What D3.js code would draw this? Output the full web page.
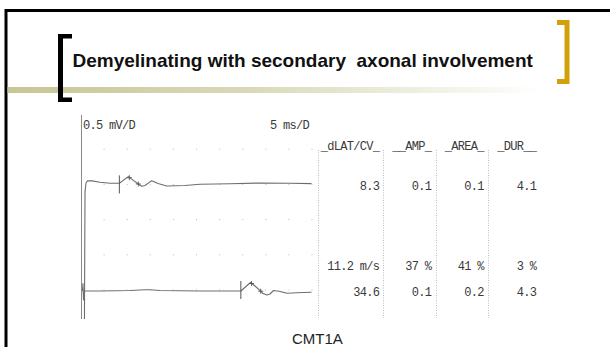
<!DOCTYPE html>
<html>
<head>
<meta charset="utf-8">
<script src="https://cdn.jsdelivr.net/npm/d3@7"></script>
<style>
  html, body { margin: 0; padding: 0; background: #fff; overflow: hidden; }
  svg { display: block; }
  .mono { font-family: "Liberation Mono", "DejaVu Sans Mono", monospace; font-size: 12px; letter-spacing: -0.7px; fill: #3a3a3a; }
</style>
</head>
<body>
<svg id="chart" width="610" height="347"></svg>
<script>
// ---- content ----
const titleText = "Demyelinating with secondary  axonal involvement";
const caption = "CMT1A";
const sensitivityLabel = "0.5 mV/D";
const sweepLabel = "5 ms/D";

// result table: column headings, distal site, conduction comparison, proximal site
const columnHeads = ["_dLAT/CV_", "__AMP_", "_AREA_", "_DUR__"];
const distalValues = [8.3, 0.1, 0.1, 4.1];      // latency ms, amp mV, area mVms, duration ms
const comparisonLabels = ["11.2 m/s", "37 %", "41 %", "3 %"];
const proximalValues = [34.6, 0.1, 0.2, 4.3];

// recorded traces: time (ms) and amplitude (mV, upward positive)
const distalTime = [0.72, 0.87, 1.08, 1.41, 2.38, 4.11, 6.28, 8.3, 10.24, 11.26, 12.4, 13.14, 13.85, 15.3, 16.67, 18.55, 22.5, 25.76, 32.25, 38.74, 45.24, 49.9];
const distalAmp  = [-2.3, -0.11, 0.02, 0.05, 0.05, 0.03, 0.017, 0.016, 0.11, 0.06, 0.006, -0.026, -0.016, 0.053, 0.013, -0.023, -0.016, 0.003, 0.009, 0.02, 0.016, 0.011];
const proximalTime = [0.3, 0.43, 0.54, 0.65, 4.11, 10.6, 13.85, 14.9, 17.1, 25.76, 34.6, 36.69, 37.66, 38.9, 39.39, 40.26, 40.9, 41.67, 42.86, 44.6, 46.75, 49.9];
const proximalAmp  = [-0.014, 0.09, -0.14, -0.014, -0.014, -0.007, 0.003, 0.003, -0.007, -0.014, -0.014, 0.107, 0.057, -0.017, -0.05, -0.071, -0.057, -0.007, -0.017, -0.047, -0.04, -0.033];

// display settings
const msPerDiv = 5, divisionsX = 10;
const mVPerDiv = 0.5;

const svg = d3.select("#chart");

// ---- slide frame ----
const defs = svg.append("defs");
const grad = defs.append("linearGradient").attr("id", "band").attr("x1", "0").attr("x2", "1").attr("y1", "0").attr("y2", "0");
grad.append("stop").attr("offset", "0").attr("stop-color", "#c6c697");
grad.append("stop").attr("offset", "0.45").attr("stop-color", "#d9d9b8");
grad.append("stop").attr("offset", "1").attr("stop-color", "#ffffff");

svg.append("rect").attr("x", 6).attr("y", 10.5).attr("width", 700).attr("height", 500)
  .attr("fill", "none").attr("stroke", "#000").attr("stroke-width", 3);

svg.append("rect").attr("x", 7.5).attr("y", 87).attr("width", 535).attr("height", 6).attr("fill", "url(#band)");

// left bracket (black)
svg.append("path").attr("fill", "#000")
  .attr("d", "M58,34 H72 V38.5 H63 V97.5 H72 V102 H58 Z");
// right bracket (gold)
svg.append("path").attr("fill", "#d39f0b")
  .attr("d", "M557,20 H569.5 V84 H557 V79 H564.5 V25 H557 Z");

svg.append("text").attr("x", 72.5).attr("y", 67)
  .style("white-space", "pre")
  .attr("font-family", "'Liberation Sans', Arial, sans-serif")
  .attr("font-weight", "bold").attr("font-size", 19).attr("fill", "#111")
  .text(titleText);

// ---- trace display ----
const x = d3.scaleLinear().domain([0, msPerDiv * divisionsX]).range([81, 312]);
const row = d3.scaleLinear().domain([0, 5]).range([114, 290]);
const divPx = row(1) - row(0);
const traceY = (rowIndex) => d3.scaleLinear().domain([0, mVPerDiv]).range([row(rowIndex), row(rowIndex) - divPx]);

const g = svg.append("g");

// grid dots
const dotCols = d3.range(1, divisionsX + 1).map(d => d * msPerDiv);
const dotRows = [1, 2, 3, 4, 5];
dotRows.forEach(r => {
  g.selectAll(null).data(dotCols).join("rect")
    .attr("x", d => x(d) - 0.5).attr("y", row(r) - 0.5)
    .attr("width", 1).attr("height", 1).attr("fill", "#b8b8b8");
});

// vertical axis
g.append("line").attr("x1", 81.5).attr("x2", 81.5).attr("y1", 115).attr("y2", 319)
  .attr("stroke", "#8a8a8a").attr("stroke-width", 1);

g.append("text").attr("class", "mono").attr("x", 83).attr("y", 128.5).text(sensitivityLabel);
g.append("text").attr("class", "mono").attr("x", 309).attr("y", 128.5).attr("text-anchor", "end").text(sweepLabel);

defs.append("clipPath").attr("id", "plotClip").append("rect")
  .attr("x", 81).attr("y", 110).attr("width", 240).attr("height", 209);

function drawTrace(times, amps, rowIndex, values) {
  const y = traceY(rowIndex);
  const pts = times.map((t, i) => [t, amps[i]]);
  const line = d3.line().x(d => x(d[0])).y(d => y(d[1]));
  const tg = g.append("g").attr("clip-path", "url(#plotClip)");
  tg.append("path").attr("d", line(pts)).attr("fill", "none")
    .attr("stroke", "#6e6e6e").attr("stroke-width", 1.1).attr("stroke-linejoin", "round");

  const lat = values[0], dur = values[3];
  // onset marker
  tg.append("line").attr("x1", x(lat)).attr("x2", x(lat))
    .attr("y1", y(0) - 9).attr("y2", y(0) + 9)
    .attr("stroke", "#555").attr("stroke-width", 1);
  // peak marker
  const win = pts.filter(p => p[0] >= lat && p[0] <= lat + dur);
  const peak = win.reduce((a, b) => (b[1] > a[1] ? b : a));
  const cross = (cx, cy) => {
    tg.append("path").attr("d", `M${cx - 2.5},${cy}H${cx + 2.5}M${cx},${cy - 2.5}V${cy + 2.5}`)
      .attr("stroke", "#555").attr("stroke-width", 0.9);
  };
  cross(x(peak[0]) + 1, y(peak[1]) + 1);
  // end of response marker
  const endT = lat + dur;
  const endA = d3.scaleLinear().domain(times).range(amps)(endT);
  cross(x(endT), y(endA));
}

drawTrace(distalTime, distalAmp, 2, distalValues);
drawTrace(proximalTime, proximalAmp, 5, proximalValues);

// ---- result table ----
const colRight = [378.5, 430.5, 483, 535.5];
const sepX = [318, 383, 436, 488];
sepX.forEach(sx => {
  g.append("line").attr("x1", sx + 0.5).attr("x2", sx + 0.5).attr("y1", 150).attr("y2", 318)
    .attr("stroke", "#bdbdbd").attr("stroke-width", 1).attr("stroke-dasharray", "1,1.5");
});

const fmt = d3.format(".1f");
const rowsText = [
  { y: 149.5, cells: columnHeads },
  { y: 190, cells: distalValues.map(fmt) },
  { y: 270, cells: comparisonLabels },
  { y: 296, cells: proximalValues.map(fmt) }
];
rowsText.forEach(rw => {
  g.selectAll(null).data(rw.cells).join("text")
    .attr("class", "mono").attr("x", (d, i) => colRight[i] + 0.7).attr("y", rw.y)
    .attr("text-anchor", "end").style("white-space", "pre").text(d => d);
});

// caption
svg.append("text").attr("x", 292).attr("y", 344)
  .attr("font-family", "'Liberation Sans', Arial, sans-serif").attr("font-size", 15).attr("fill", "#222")
  .text(caption);
</script>
</body>
</html>
